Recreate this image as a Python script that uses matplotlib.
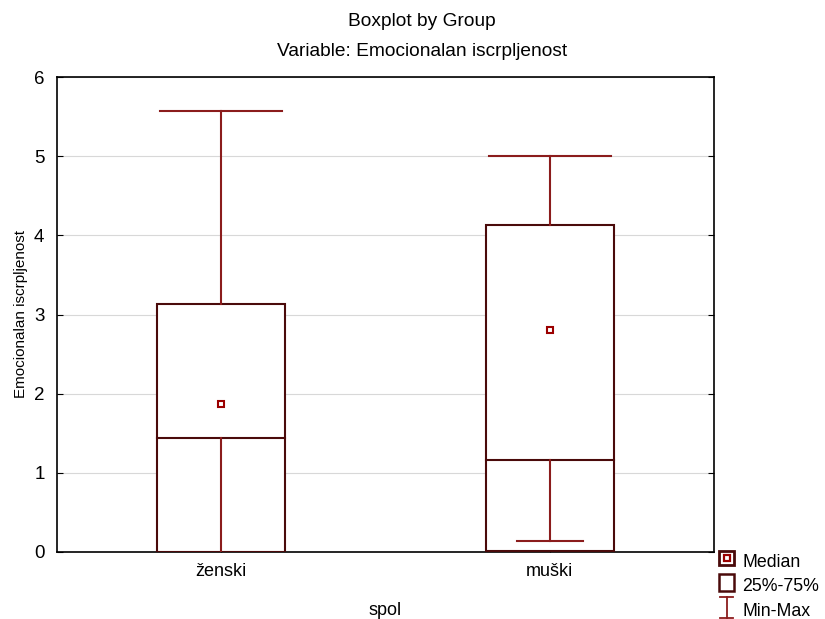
import matplotlib
matplotlib.use("Agg")
import matplotlib.pyplot as plt
from matplotlib.patches import Rectangle
from matplotlib.lines import Line2D
from matplotlib.legend_handler import HandlerBase

plt.rcParams['font.family'] = ['Liberation Sans', 'DejaVu Sans']
plt.rcParams['font.size'] = 9

categories = ["ženski", "muški"]
box_bottom = [0.0, 0.01]
box_top = [3.13, 4.13]
inner_line = [1.44, 1.16]
medians = [1.87, 2.81]
mins = [0.0, 0.14]
maxs = [5.57, 5.00]
yticks = [0, 1, 2, 3, 4, 5, 6]

BOX_EDGE = "#4a0a0a"
WHISK = "#8b1c1c"
MED = "#9b0000"

fig = plt.figure(figsize=(8.25, 6.19), dpi=100)
ax = fig.add_axes([57/825, 1 - 552/619, (714-57)/825, (552-77)/619])

bw = 0.39
capw_top = 0.37
capw_bot = 0.20
for i, c in enumerate(categories):
    ax.add_patch(Rectangle((i - bw/2, box_bottom[i]), bw, box_top[i] - box_bottom[i],
                           facecolor="white", edgecolor=BOX_EDGE, lw=1.5, zorder=3))
    ax.plot([i - bw/2, i + bw/2], [inner_line[i]]*2, color=BOX_EDGE, lw=1.5, zorder=4)
    ax.plot([i, i], [box_top[i], maxs[i]], color=WHISK, lw=1.5, zorder=4)
    ax.plot([i, i], [mins[i], inner_line[i]], color=WHISK, lw=1.5, zorder=4)
    ax.plot([i - capw_top/2, i + capw_top/2], [maxs[i]]*2, color=WHISK, lw=1.5, zorder=4)
    if mins[i] > box_bottom[i] + 0.05:
        ax.plot([i - capw_bot/2, i + capw_bot/2], [mins[i]]*2, color=WHISK, lw=1.5, zorder=4)
    ax.plot([i], [medians[i]], marker='s', ms=5, mfc='white', mec=MED, mew=1.5, zorder=5)

ax.set_xlim(-0.5, 1.5)
ax.set_ylim(0, 6)
ax.set_yticks(yticks)
ax.set_xticks(range(len(categories)))
ax.set_xticklabels(categories, fontsize=13)
ax.tick_params(axis='y', labelsize=13.5, direction='in', right=True, length=4, pad=9)
ax.tick_params(axis='x', direction='in', length=3, pad=8)
ax.yaxis.grid(True, color="#d8d8d8", lw=0.8, zorder=0)
ax.set_axisbelow(True)
for s in ax.spines.values():
    s.set_linewidth(1.2)
    s.set_color("black")

ax.set_ylabel("Emocionalan iscrpljenost", fontsize=11, labelpad=4)
ax.set_xlabel("spol", fontsize=13, labelpad=16)
fig.text(422/825, 1 - 21/619, "Boxplot by Group", ha='center', va='center', fontsize=13.8)
fig.text(422/825, 1 - 52/619, "Variable: Emocionalan iscrpljenost", ha='center', va='center', fontsize=13.8)

# legend
class MedianHandler(HandlerBase):
    def create_artists(self, legend, orig, xd, yd, w, h, fs, trans):
        s = min(w, h) * 1.0
        x0 = xd + (w - s) / 2
        y0 = yd + (h - s) / 2
        outer = Rectangle((x0, y0), s, s, facecolor='white', edgecolor=BOX_EDGE, lw=2.0, transform=trans)
        inner = Rectangle((x0 + s*0.3, y0 + s*0.3), s*0.4, s*0.4, facecolor='white', edgecolor=MED, lw=1.6, transform=trans)
        return [outer, inner]

class BoxHandler(HandlerBase):
    def create_artists(self, legend, orig, xd, yd, w, h, fs, trans):
        s = min(w, h) * 1.0
        x0 = xd + (w - s) / 2
        y0 = yd + (h - s) / 2
        return [Rectangle((x0, y0 - s*0.05), s, s * 1.15, facecolor='white', edgecolor=BOX_EDGE, lw=1.8, transform=trans)]

class MinMaxHandler(HandlerBase):
    def create_artists(self, legend, orig, xd, yd, w, h, fs, trans):
        cx = xd + w/2
        s = h * 1.4
        y0 = yd + (h - s)/2
        l1 = Line2D([cx, cx], [y0, y0 + s], color=WHISK, lw=1.3, transform=trans)
        l2 = Line2D([cx - s*0.33, cx + s*0.33], [y0 + s]*2, color=WHISK, lw=1.3, transform=trans)
        l3 = Line2D([cx - s*0.33, cx + s*0.33], [y0]*2, color=WHISK, lw=1.3, transform=trans)
        return [l1, l2, l3]

h1, h2, h3 = object(), object(), object()
leg = fig.legend([h1, h2, h3], ["Median", "25%-75%", "Min-Max"],
                 handler_map={h1: MedianHandler(), h2: BoxHandler(), h3: MinMaxHandler()},
                 loc='lower left', bbox_to_anchor=(712/825, 1 - 627/619),
                 frameon=False, fontsize=12.8, handlelength=0.85, handleheight=0.9,
                 handletextpad=0.45, labelspacing=0.4, borderaxespad=0.0)

fig.savefig("out.png", dpi=100)
